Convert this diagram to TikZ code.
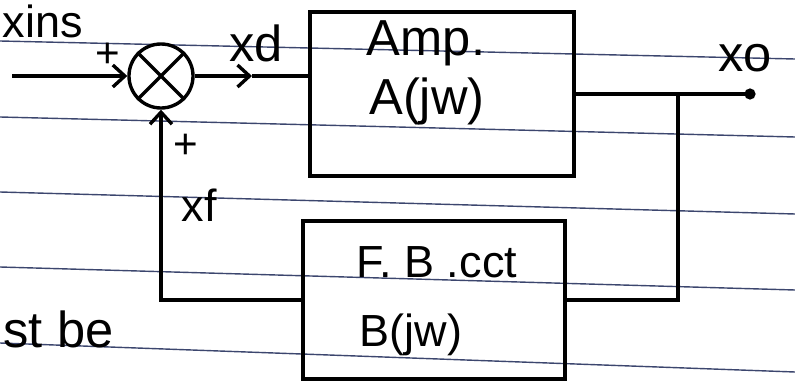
\documentclass[tikz,border=0pt]{standalone}
\usepackage{fontspec}
\setmainfont{Liberation Sans}
\usetikzlibrary{arrows.meta}
\definecolor{rulecol}{RGB}{60,70,110}

\begin{document}
\begin{tikzpicture}[x=0.025cm, y=-0.025cm, line width=2.4pt,
    snode/.style={draw,circle,minimum size=1.6cm,inner sep=0pt},
    bnode/.style={draw,rectangle,inner sep=0pt},
    tnode/.style={font=\fontsize{36}{40}\selectfont,inner sep=0pt,anchor=base},
    ruleline/.style={line width=1pt,draw=rulecol},
    >={Straight Barb[length=3mm,width=5.5mm]}]
    \useasboundingbox (0,0) rectangle (795,387);
    % ruled paper
    \draw[ruleline] (0,41) -- (795,59);
    \draw[ruleline] (0,117) -- (795,137);
    \draw[ruleline] (0,192) -- (795,214);
    \draw[ruleline] (0,267) -- (795,290);
    \draw[ruleline] (0,343) -- (795,372);

    \node[snode] (sum) at (161,76) {};
    \draw (sum.45) -- (sum.225) (sum.135) -- (sum.315);
    \node[bnode, minimum width=6.6cm, minimum height=4.1cm] (amp) at (442,94) {};
    \node[bnode, minimum width=6.55cm, minimum height=3.95cm] (fb) at (434,300) {};

    \node[tnode] (ampname) at (426,56) {Amp.};
    \node[tnode] (ampgain) at (427,114) {A(jw)};
    \node[tnode, font=\fontsize{32}{36}\selectfont] (fbname) at (437,277) {F. B .cct};
    \node[tnode, font=\fontsize{32}{36}\selectfont] (fbgain) at (411,346) {B(jw)};
    \node[tnode] (xd) at (256,62) {xd};
    \node[tnode] (xo) at (745,72) {xo};
    \node[tnode, font=\fontsize{32}{36}\selectfont] (xf) at (199,221) {xf};
    \node[tnode, anchor=base west, font=\fontsize{32}{36}\selectfont] (xins) at (1,38) {xins};
    \node[tnode, anchor=base west] (stbe) at (2,347) {st be};
    \node[tnode, anchor=center, font=\fontsize{30}{34}\selectfont] (pin) at (108,55) {+};
    \node[tnode, anchor=center, font=\fontsize{30}{34}\selectfont] (pfb) at (186,146) {+};

    \coordinate (in) at (12,76);
    \coordinate (xdarr) at (252,76);
    \coordinate (j) at (678,94);
    \coordinate (out) at (750,94);

    \draw[->] (in) -- (sum.west);
    \draw[->] (sum.east) -- (xdarr);
    \draw (xdarr) -- (xdarr -| amp.west);
    \draw (amp.east) -- (out);
    \fill (out) circle (4pt);
    \draw (j) |- (fb.east);
    \draw[->] (fb.west) -| (sum.south);
\end{tikzpicture}
\end{document}
